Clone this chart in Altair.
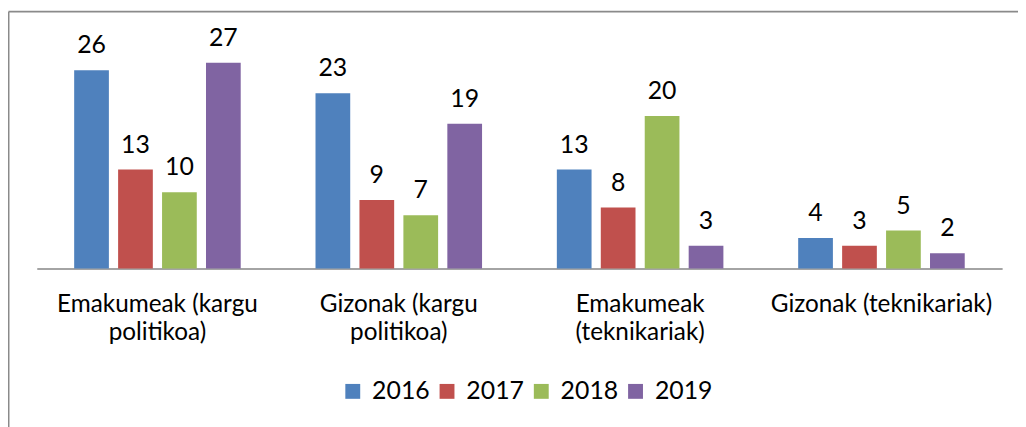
import json
import altair as alt
import pandas as pd

categories = ["Emakumeak (kargu politikoa)", "Gizonak (kargu politikoa)",
              "Emakumeak (teknikariak)", "Gizonak (teknikariak)"]
years = ["2016", "2017", "2018", "2019"]
v2016 = [26, 23, 13, 4]
v2017 = [13, 9, 8, 3]
v2018 = [10, 7, 20, 5]
v2019 = [27, 19, 3, 2]
colors = ["#4F81BD", "#C0504D", "#9BBB59", "#8064A2"]
label_lines = {
    "Emakumeak (kargu politikoa)": ["Emakumeak (kargu", "politikoa)"],
    "Gizonak (kargu politikoa)": ["Gizonak (kargu", "politikoa)"],
    "Emakumeak (teknikariak)": ["Emakumeak", "(teknikariak)"],
    "Gizonak (teknikariak)": ["Gizonak (teknikariak)"],
}

rows = []
for y, vals in zip(years, [v2016, v2017, v2018, v2019]):
    for c, v in zip(categories, vals):
        rows.append({"cat": c, "year": y, "value": v})
df = pd.DataFrame(rows)

expr = "".join(f"datum.label === {json.dumps(k)} ? {json.dumps(v)} : " for k, v in label_lines.items()) + "datum.label"

FONT = "Lato"

x = alt.X("cat:N", sort=categories, title=None,
          scale=alt.Scale(paddingInner=0, paddingOuter=0),
          axis=alt.Axis(labelAngle=0, labelExpr=expr, labelFont=FONT, labelFontSize=24.5,
                        labelColor="black", labelLineHeight=28, labelPadding=24,
                        labelBaseline="top", ticks=False, domainColor="#868686",
                        domainWidth=1.5, labelLimit=300))
xo = alt.XOffset("year:N", sort=years,
                 scale=alt.Scale(paddingInner=0.21, paddingOuter=0.851))
y = alt.Y("value:Q", scale=alt.Scale(domain=[0, 32]), axis=None)

base = alt.Chart(df)
bars = base.mark_bar().encode(
    x=x, xOffset=xo, y=y,
    color=alt.Color("year:N", sort=years,
                    scale=alt.Scale(domain=years, range=colors),
                    legend=alt.Legend(title=None, orient="none", direction="horizontal",
                                      legendX=306, legendY=357, symbolType="square",
                                      symbolSize=225, symbolStrokeWidth=0,
                                      labelFont=FONT, labelFontSize=25, labelColor="black",
                                      labelOffset=7, columnPadding=4)),
)
texts = base.mark_text(baseline="alphabetic", dy=-17, font=FONT, fontSize=25, color="black").encode(
    x=x, xOffset=xo, y=y, text="value:Q")

border_top = alt.Chart(pd.DataFrame({"a": [0]})).mark_rule(color="#8a8a8a", strokeWidth=2).encode(
    x=alt.value(-28.5), x2=alt.value(1000), y=alt.value(-13))
border_left = alt.Chart(pd.DataFrame({"a": [0]})).mark_rule(color="#8a8a8a", strokeWidth=2).encode(
    x=alt.value(-28.5), y=alt.value(-13), y2=alt.value(420))

chart = alt.layer(bars, texts, border_top, border_left).properties(
    width=973, height=246,
    padding={"left": 29, "top": 15, "right": 16, "bottom": 158},
    autosize=alt.AutoSizeParams(type="none"),
).configure_view(stroke=None)

chart.save("out.html", embed_options={"renderer": "svg", "actions": False})
